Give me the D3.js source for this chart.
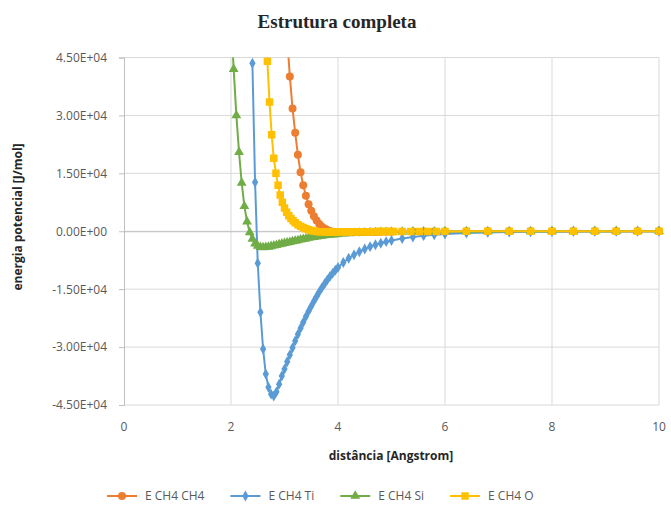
<!DOCTYPE html>
<html lang="pt">
<head>
<meta charset="utf-8">
<script src="https://cdn.jsdelivr.net/npm/d3@7"></script>
<style>
  body { margin: 0; background: #fff; }
  svg text { font-family: "Open Sans", sans-serif; }
</style>
</head>
<body>
<div id="grafico"></div>
<script>
// valores
var seriesNomes = ["E CH4 CH4", "E CH4 Ti", "E CH4 Si", "E CH4 O"];
var xTicks = [0, 2, 4, 6, 8, 10];
var yTicks = [-45000, -30000, -15000, 0, 15000, 30000, 45000];

var xCH4 = [3.05, 3.10, 3.15, 3.20, 3.25, 3.30, 3.35, 3.40, 3.45, 3.50, 3.55, 3.60, 3.65, 3.70, 3.75, 3.80, 3.85, 3.90, 3.95, 4.00,
            4.1, 4.2, 4.3, 4.4, 4.5, 4.6, 4.7, 4.8, 4.9, 5.0, 5.2, 5.4, 5.6, 5.8, 6.0, 6.4, 6.8, 7.2, 7.6, 8.0, 8.4, 8.8, 9.2, 9.6, 10.0];
var yCH4 = [50000, 40100, 31800, 25500, 19800, 15300, 11900, 9200, 7000, 5300, 3900, 2800, 1900, 1200, 700, 300, 50, -100, -200, -250,
            -280, -270, -250, -230, -210, -190, -170, -150, -135, -120, -95, -75, -60, -48, -38, -25, -17, -12, -8, -6, -4, -3, -2, -2, -1];

var xTi = [2.40, 2.45, 2.50, 2.55, 2.60, 2.65, 2.70, 2.75, 2.80, 2.85, 2.90, 2.95, 3.00, 3.05, 3.10, 3.15, 3.20, 3.25, 3.30, 3.35,
           3.40, 3.45, 3.50, 3.55, 3.60, 3.65, 3.70, 3.75, 3.80, 3.85, 3.90, 3.95, 4.00, 4.1, 4.2, 4.3, 4.4, 4.5, 4.6, 4.7, 4.8, 4.9, 5.0,
           5.2, 5.4, 5.6, 5.8, 6.0, 6.4, 6.8, 7.2, 7.6, 8.0, 8.4, 8.8, 9.2, 9.6, 10.0];
var yTi = [43500, 12700, -8300, -21000, -30500, -37000, -40400, -42200, -42700, -41600, -39600, -37500, -35700, -33800, -32000, -30200, -28400, -26700, -25100, -23600,
           -22100, -20700, -19400, -18100, -16900, -15700, -14600, -13600, -12600, -11700, -10900, -10100, -9400, -8100, -7000, -6100, -5300, -4600, -4000, -3500, -3100, -2700, -2400,
           -1900, -1500, -1150, -900, -700, -450, -300, -200, -140, -100, -70, -50, -35, -25, -20];

var xSi = [2.00, 2.05, 2.10, 2.15, 2.20, 2.25, 2.30, 2.35, 2.40, 2.45, 2.50, 2.55, 2.60, 2.65, 2.70, 2.75, 2.80, 2.85, 2.90, 2.95,
           3.00, 3.05, 3.10, 3.15, 3.20, 3.25, 3.30, 3.35, 3.40, 3.45, 3.50, 3.55, 3.60, 3.65, 3.70, 3.75, 3.80, 3.85, 3.90, 3.95, 4.00,
           4.1, 4.2, 4.3, 4.4, 4.5, 4.6, 4.7, 4.8, 4.9, 5.0, 5.2, 5.4, 5.6, 5.8, 6.0, 6.4, 6.8, 7.2, 7.6, 8.0, 8.4, 8.8, 9.2, 9.6, 10.0];
var ySi = [55000, 42000, 30000, 20500, 12500, 6500, 2500, -300, -2000, -3200, -3800, -4100, -4200, -4150, -4050, -3900, -3750, -3600, -3400, -3250,
           -3100, -2950, -2800, -2650, -2500, -2350, -2200, -2050, -1900, -1750, -1600, -1500, -1400, -1300, -1200, -1100, -1000, -950, -880, -820, -760,
           -650, -560, -490, -430, -380, -335, -295, -260, -230, -205, -165, -130, -105, -85, -70, -48, -33, -23, -16, -12, -9, -7, -5, -4, -3];

var xO = [2.64, 2.68, 2.72, 2.76, 2.80, 2.84, 2.88, 2.92, 2.96, 3.00, 3.04, 3.08, 3.12, 3.16, 3.20, 3.25, 3.30, 3.35, 3.40, 3.45,
          3.50, 3.55, 3.60, 3.65, 3.70, 3.75, 3.80, 3.85, 3.90, 3.95, 4.00, 4.05, 4.10, 4.15, 4.20, 4.25, 4.30, 4.35, 4.40, 4.45,
          4.50, 4.55, 4.60, 4.65, 4.70, 4.75, 4.80, 4.85, 4.90, 4.95, 5.00, 5.04, 5.20, 5.36, 5.52, 5.68, 5.84, 6.0,
          6.4, 6.8, 7.2, 7.6, 8.0, 8.4, 8.8, 9.2, 9.6, 10.0];
var yO = [53000, 44000, 33500, 25000, 18900, 15000, 11900, 9400, 7500, 6000, 4900, 4000, 3300, 2700, 2200, 1700, 1300, 950, 650, 400,
          200, 60, -40, -100, -140, -160, -170, -175, -175, -170, -165, -160, -155, -150, -145, -140, -135, -130, -125, -120,
          -115, -110, -105, -100, -95, -90, -86, -82, -78, -74, -70, -68, -60, -53, -47, -42, -37, -33,
          -26, -20, -15, -12, -9, -7, -5, -4, -3, -2];

var cores = ["#ED7D31", "#5B9BD5", "#70AD47", "#FFC000"];
var simbolos = [d3.symbolCircle, d3.symbolDiamond, d3.symbolTriangle, d3.symbolSquare];
var tamanhos = [50, 34, 42, 56];

var series = [
  { nome: seriesNomes[0], x: xCH4, y: yCH4 },
  { nome: seriesNomes[1], x: xTi, y: yTi },
  { nome: seriesNomes[2], x: xSi, y: ySi },
  { nome: seriesNomes[3], x: xO, y: yO }
];

var largura = 671, altura = 508;
var esq = 124, dir = 659, topo = 57.5, base = 405;

var svg = d3.select("#grafico").append("svg")
  .attr("width", largura).attr("height", altura);

var xEsc = d3.scaleLinear().domain([0, 10]).range([esq, dir]);
var yEsc = d3.scaleLinear().domain([-45000, 45000]).range([base, topo]);

// titulo
svg.append("text")
  .attr("x", 337).attr("y", 28)
  .attr("text-anchor", "middle")
  .style("font-family", "'Liberation Serif', serif")
  .style("font-weight", "bold")
  .style("font-size", "19px")
  .attr("fill", "#262626")
  .text("Estrutura completa");

// grade
svg.append("g").selectAll("line").data(yTicks).join("line")
  .attr("x1", esq).attr("x2", dir)
  .attr("y1", d => yEsc(d)).attr("y2", d => yEsc(d))
  .attr("stroke", "#d9d9d9").attr("stroke-width", 1);
svg.append("g").selectAll("line").data(xTicks.filter(d => d > 0)).join("line")
  .attr("x1", d => xEsc(d)).attr("x2", d => xEsc(d))
  .attr("y1", topo).attr("y2", base)
  .attr("stroke", "#d9d9d9").attr("stroke-width", 1);

// eixo y (em x = 0)
var eixoY = d3.axisLeft(yEsc).tickValues(yTicks).tickSize(5).tickPadding(12)
  .tickFormat(d => {
    var s = Math.abs(d).toExponential(2).toUpperCase().replace("E+", "E+0").replace("E-", "E-0");
    return (d < 0 ? "-" : "") + s;
  });
var gY = svg.append("g").attr("transform", "translate(" + xEsc(0) + ",0)").call(eixoY);
gY.select(".domain").attr("stroke", "#bfbfbf");
gY.selectAll(".tick line").attr("stroke", "#bfbfbf");
gY.selectAll("text").attr("fill", "#595959").style("font-size", "12px");

// eixo x (linha em y = 0, rótulos embaixo)
var gX = svg.append("g").attr("transform", "translate(0," + yEsc(0) + ")")
  .call(d3.axisBottom(xEsc).tickValues(xTicks).tickSize(0).tickFormat(d3.format("d")));
gX.select(".domain").attr("stroke", "#bfbfbf");
gX.selectAll("text").remove();
svg.append("g").selectAll("text").data(xTicks).join("text")
  .attr("x", d => xEsc(d)).attr("y", base + 26)
  .attr("text-anchor", "middle")
  .attr("fill", "#595959").style("font-size", "12px")
  .text(d => d);

// titulos dos eixos
svg.append("text")
  .attr("transform", "translate(22," + 217 + ") rotate(-90)")
  .attr("text-anchor", "middle")
  .style("font-weight", "bold").style("font-size", "12px")
  .attr("fill", "#262626")
  .text("energia potencial [J/mol]");
svg.append("text")
  .attr("x", 391).attr("y", 460)
  .attr("text-anchor", "middle")
  .style("font-weight", "bold").style("font-size", "12px")
  .attr("fill", "#262626")
  .text("distância [Angstrom]");

// series
svg.append("clipPath").attr("id", "area").append("rect")
  .attr("x", esq - 6).attr("y", topo).attr("width", dir - esq + 12).attr("height", base - topo);
var plot = svg.append("g").attr("clip-path", "url(#area)");
var linha = d3.line().x(d => xEsc(d[0])).y(d => yEsc(d[1]));

series.forEach(function(s, i) {
  var pts = s.x.map((v, k) => [v, s.y[k]]);
  plot.append("path").datum(pts)
    .attr("d", linha).attr("fill", "none")
    .attr("stroke", cores[i]).attr("stroke-width", 2);
  plot.append("g").selectAll("path").data(pts).join("path")
    .attr("transform", d => "translate(" + xEsc(d[0]) + "," + yEsc(d[1]) + ")")
    .attr("d", d3.symbol().type(simbolos[i]).size(tamanhos[i]))
    .attr("fill", cores[i]);
});

// legenda
var xLeg = 107, yLeg = 496;
series.forEach(function(s, i) {
  var g = svg.append("g");
  g.append("line").attr("x1", xLeg).attr("x2", xLeg + 30).attr("y1", yLeg).attr("y2", yLeg)
    .attr("stroke", cores[i]).attr("stroke-width", 2);
  g.append("path").attr("transform", "translate(" + (xLeg + 15) + "," + yLeg + ")")
    .attr("d", d3.symbol().type(simbolos[i]).size(tamanhos[i])).attr("fill", cores[i]);
  var t = g.append("text").attr("x", xLeg + 38).attr("y", yLeg + 4)
    .attr("fill", "#595959").style("font-size", "12px").text(s.nome);
  xLeg += 38 + t.node().getComputedTextLength() + 26;
});
</script>
</body>
</html>
